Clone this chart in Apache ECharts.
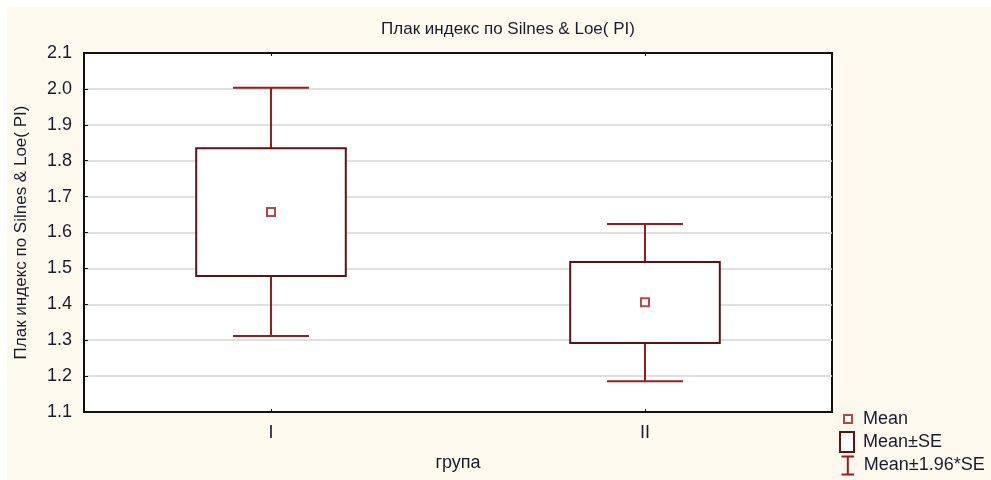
<!DOCTYPE html>
<html>
<head>
<meta charset="utf-8">
<script src="https://cdn.jsdelivr.net/npm/echarts@6/dist/echarts.min.js"></script>
<style>
html,body{margin:0;padding:0;background:#fff;}
#chart{width:991px;height:480px;}
</style>
</head>
<body>
<div id="chart"></div>
<script>
// ---- data ----
var categories = ['I', 'II'];
var means = [1.657, 1.406];
var seLow = [1.479, 1.292];
var seHigh = [1.835, 1.518];
var ciLow = [1.312, 1.186];
var ciHigh = [2.003, 1.624];
var yTicks = { min: 1.1, max: 2.1, interval: 0.1 };

var textColor = '#1b1b2e';
var fontFamily = '"Liberation Sans", Arial, sans-serif';
var boxColor = '#5e1414';
var whiskerColor = '#9c1b1b';
var meanColor = '#a01e1e';

var boxData = categories.map(function (c, i) { return [i, seLow[i], seHigh[i]]; });
var ciData = categories.map(function (c, i) { return [i, ciLow[i], ciHigh[i]]; });
var meanData = categories.map(function (c, i) { return [i, means[i]]; });

var chart = echarts.init(document.getElementById('chart'));
chart.setOption({
  backgroundColor: '#fff',
  animation: false,
  textStyle: { fontFamily: fontFamily, color: textColor },
  graphic: [{
    type: 'rect', z: -100, silent: true,
    shape: { x: 7, y: 7, width: 984, height: 473 },
    style: { fill: '#fdf9ef' }
  }],
  title: {
    text: 'Плак индекс по Silnes & Loe( PI)',
    left: 508, top: 21, textAlign: 'center', padding: 0,
    textStyle: { fontSize: 17, fontWeight: 'normal', color: textColor, fontFamily: fontFamily }
  },
  grid: {
    left: 84, right: 159, top: 53, bottom: 68,
    show: true, backgroundColor: '#fff', borderColor: '#111', borderWidth: 2
  },
  xAxis: [{
    type: 'category', data: categories, position: 'bottom',
    name: 'група', nameLocation: 'middle', nameGap: 42,
    nameTextStyle: { fontSize: 18, color: textColor },
    axisLine: { show: true, lineStyle: { color: '#111', width: 2 } },
    axisTick: { show: true, inside: true, alignWithLabel: true, length: 3, lineStyle: { color: '#111' } },
    axisLabel: { fontSize: 18, color: textColor, margin: 12 },
    splitLine: { show: false }
  }, {
    type: 'category', data: categories, position: 'top',
    axisLine: { show: true, lineStyle: { color: '#111', width: 2 } },
    axisTick: { show: true, inside: true, alignWithLabel: true, length: 3, lineStyle: { color: '#111' } },
    axisLabel: { show: false },
    splitLine: { show: false }
  }],
  yAxis: {
    type: 'value', min: yTicks.min, max: yTicks.max, interval: yTicks.interval,
    name: 'Плак индекс по Silnes & Loe( PI)', nameLocation: 'middle', nameGap: 54,
    nameTextStyle: { fontSize: 17, color: textColor },
    axisLine: { show: true, lineStyle: { color: '#111', width: 2 } },
    axisTick: { show: true, inside: true, length: 4, lineStyle: { color: '#111' } },
    axisLabel: { fontSize: 18, color: textColor, margin: 12, formatter: function (v) { return v.toFixed(1); } },
    splitLine: { show: true, lineStyle: { color: '#d6d6d6', width: 1.5 } }
  },
  legend: [{
    data: ['Mean'], orient: 'vertical', left: 843, top: 410, padding: 0,
    itemWidth: 8, itemHeight: 8, icon: 'rect',
    itemStyle: { color: '#fff', borderColor: meanColor, borderWidth: 2 },
    textStyle: { fontSize: 18, color: textColor, padding: [0, 0, 0, 6] }
  }, {
    data: ['Mean±SE'], orient: 'vertical', left: 839, top: 431, padding: 0,
    itemWidth: 14, itemHeight: 20, icon: 'rect',
    itemStyle: { color: '#fff', borderColor: boxColor, borderWidth: 2 },
    textStyle: { fontSize: 18, color: textColor, padding: [0, 0, 0, 4] }
  }, {
    data: ['Mean±1.96*SE'], orient: 'vertical', left: 839, top: 454, padding: 0,
    itemWidth: 14, itemHeight: 18, icon: 'path://M0,0H14M7,0V20M0,20H14',
    itemStyle: { color: 'none', borderColor: whiskerColor, borderWidth: 2 },
    textStyle: { fontSize: 18, color: textColor, padding: [0, 0, 0, 4] }
  }],
  series: [{
    name: 'Mean±1.96*SE', type: 'custom', z: 2,
    itemStyle: { color: whiskerColor },
    encode: { x: 0, y: [1, 2] },
    data: ciData,
    renderItem: function (params, api) {
      var i = api.value(0);
      var lo = api.coord([i, api.value(1)]);
      var hi = api.coord([i, api.value(2)]);
      var cap = api.size([1, 0])[0] * 0.203;
      var st = { stroke: whiskerColor, lineWidth: 2, fill: 'none' };
      return {
        type: 'group', children: [
          { type: 'line', shape: { x1: lo[0], y1: lo[1], x2: hi[0], y2: hi[1] }, style: st },
          { type: 'line', shape: { x1: hi[0] - cap / 2, y1: hi[1], x2: hi[0] + cap / 2, y2: hi[1] }, style: st },
          { type: 'line', shape: { x1: lo[0] - cap / 2, y1: lo[1], x2: lo[0] + cap / 2, y2: lo[1] }, style: st }
        ]
      };
    }
  }, {
    name: 'Mean±SE', type: 'custom', z: 3,
    itemStyle: { color: boxColor },
    encode: { x: 0, y: [1, 2] },
    data: boxData,
    renderItem: function (params, api) {
      var i = api.value(0);
      var lo = api.coord([i, api.value(1)]);
      var hi = api.coord([i, api.value(2)]);
      var w = api.size([1, 0])[0] * 0.4;
      return {
        type: 'rect',
        shape: { x: lo[0] - w / 2, y: hi[1], width: w, height: lo[1] - hi[1] },
        style: { fill: '#fff', stroke: boxColor, lineWidth: 2 }
      };
    }
  }, {
    name: 'Mean', type: 'scatter', z: 4,
    symbol: 'rect', symbolSize: 8,
    itemStyle: { color: '#fff', borderColor: meanColor, borderWidth: 2 },
    data: meanData
  }]
});
</script>
</body>
</html>
